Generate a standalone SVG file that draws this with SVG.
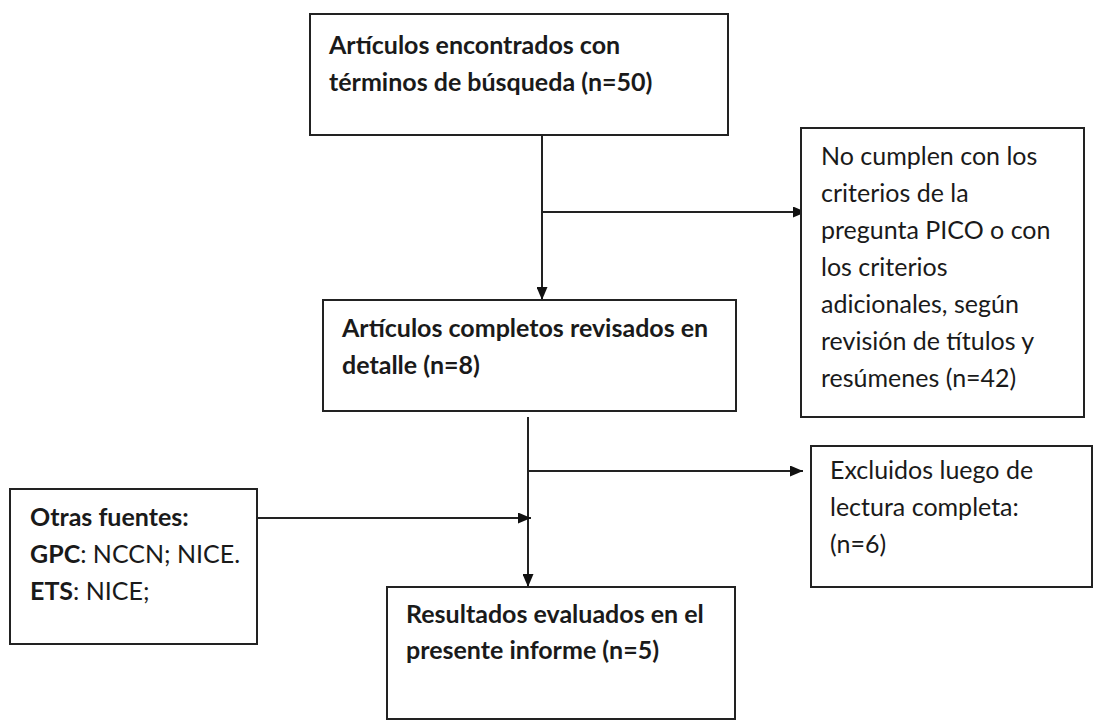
<svg xmlns="http://www.w3.org/2000/svg" width="1094" height="723" viewBox="0 0 1094 723">
<defs>
<marker id="ah" markerWidth="13" markerHeight="11" refX="13" refY="5.5" orient="auto" markerUnits="userSpaceOnUse">
<path d="M0,0 L13,5.5 L0,11 Z" fill="#111"/>
</marker>
<style>
.box{fill:#fff;stroke:#222;stroke-width:2}
.t{font-family:Lato,"Open Sans","Liberation Sans",sans-serif;font-size:25px;fill:#1a1a1a}
.b{font-weight:bold}
.ln{fill:none;stroke:#222;stroke-width:2}
</style>
</defs>
<rect width="1094" height="723" fill="#fff"/>
<g id="connectors">
<line class="ln" x1="542" y1="135" x2="542" y2="300" marker-end="url(#ah)"/>
<line class="ln" x1="542" y1="212" x2="806" y2="212" marker-end="url(#ah)"/>
<line class="ln" x1="528" y1="417" x2="528" y2="587" marker-end="url(#ah)"/>
<line class="ln" x1="528" y1="471" x2="803" y2="471" marker-end="url(#ah)"/>
<line class="ln" x1="257" y1="518" x2="531" y2="518" marker-end="url(#ah)"/>
</g>
<g id="n1">
<rect class="box" x="310" y="14" width="418" height="121"/>
<text class="t b" x="329" y="54">Artículos encontrados con</text>
<text class="t b" x="329" y="91">términos de búsqueda (n=50)</text>
</g>
<g id="n2">
<rect class="box" x="801" y="128" width="283" height="289"/>
<text class="t" x="821" y="165">No cumplen con los</text>
<text class="t" x="821" y="202">criterios de la</text>
<text class="t" x="821" y="239">pregunta PICO o con</text>
<text class="t" x="821" y="276">los criterios</text>
<text class="t" x="821" y="313">adicionales, según</text>
<text class="t" x="821" y="350">revisión de títulos y</text>
<text class="t" x="821" y="387">resúmenes (n=42)</text>
</g>
<g id="n3">
<rect class="box" x="323" y="300" width="413" height="111"/>
<text class="t b" x="342" y="337">Artículos completos revisados en</text>
<text class="t b" x="342" y="374">detalle (n=8)</text>
</g>
<g id="n4">
<rect class="box" x="811" y="446" width="281" height="141"/>
<text class="t" x="830" y="479">Excluidos luego de</text>
<text class="t" x="830" y="516">lectura completa:</text>
<text class="t" x="830" y="553">(n=6)</text>
</g>
<g id="n5">
<rect class="box" x="10" y="489" width="247" height="155"/>
<text class="t b" x="30" y="526">Otras fuentes:</text>
<text class="t" x="30" y="563"><tspan class="b">GPC</tspan>: NCCN; NICE.</text>
<text class="t" x="30" y="600"><tspan class="b">ETS</tspan>: NICE;</text>
</g>
<g id="n6">
<rect class="box" x="387" y="587" width="348" height="132"/>
<text class="t b" x="406" y="623">Resultados evaluados en el</text>
<text class="t b" x="406" y="659">presente informe (n=5)</text>
</g>
</svg>
